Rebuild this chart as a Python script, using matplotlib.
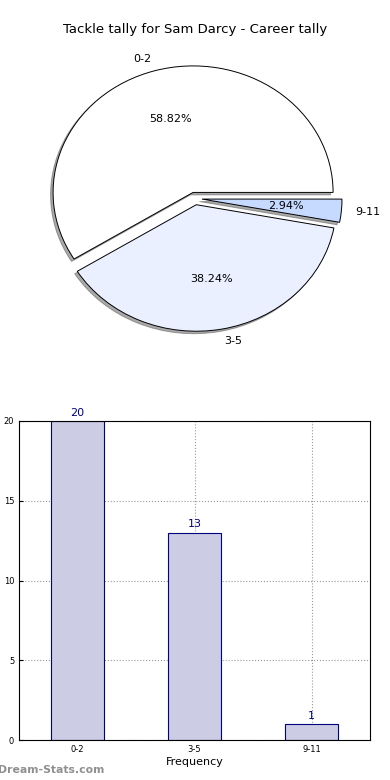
import matplotlib
matplotlib.use("Agg")
import matplotlib.pyplot as plt
import numpy as np

# data
categories = ['0-2', '3-5', '9-11']
counts = [20, 13, 1]
pie_colors = ['#ffffff', '#eaf0ff', '#c6d9ff']
title = 'Tackle tally for Sam Darcy - Career tally'

W, H = 390, 780
fig = plt.figure(figsize=(W / 100, H / 100), dpi=100)

# pie: centre about (195, 198.5) px, radius 140 px wide, 126.5 px tall
cx, cy, rx, ry = 195, 198.5, 140, 126.5
lim = 1.2
ax1 = fig.add_axes([(cx - lim * rx) / W, 1 - (cy + lim * ry) / H,
                    2 * lim * rx / W, 2 * lim * ry / H])
ax1.pie(counts, labels=categories, colors=pie_colors, autopct='%1.2f%%',
        explode=(0.05, 0.05, 0.05),
        shadow=dict(ox=-0.013, oy=-0.014, color='#555555'), startangle=0,
        wedgeprops=dict(edgecolor='black', linewidth=0.7),
        textprops=dict(fontsize=8))
ax1.set_aspect('auto')
ax1.set_xlim(-lim, lim)
ax1.set_ylim(-lim, lim)
ax1.axis('off')
fig.text(195 / W, 1 - 30 / H, title, ha='center', va='center', fontsize=9.5)

# bar chart
ax2 = fig.add_axes([19 / W, 40 / H, 351 / W, 319 / H])
x = np.arange(len(categories))
ax2.bar(x, counts, width=0.45, color='#ccccE5', edgecolor='#000080',
        linewidth=0.8, zorder=2)
for xi, c in zip(x, counts):
    ax2.text(xi, c + 0.2, str(c), ha='center', va='bottom',
             color='#000080', fontsize=8)
ax2.set_xlim(-0.5, 2.5)
ax2.set_ylim(0, 20)
ax2.set_xticks(x)
ax2.set_xticklabels(categories)
ax2.set_yticks([0, 5, 10, 15, 20])
ax2.tick_params(labelsize=6, length=3, direction='in')
ax2.grid(True, linestyle=':', color='#999999', linewidth=0.8, zorder=0)
ax2.set_axisbelow(True)
ax2.set_xlabel('Frequency', fontsize=8, labelpad=2)
ax2.set_ylabel('Distribution', fontsize=8, labelpad=6)

fig.text(-2 / W, 1 - 770 / H, 'Dream-Stats.com', ha='left', va='center',
         fontsize=7.8, color='#909090', fontweight='bold')

fig.savefig('out.png', dpi=100)
